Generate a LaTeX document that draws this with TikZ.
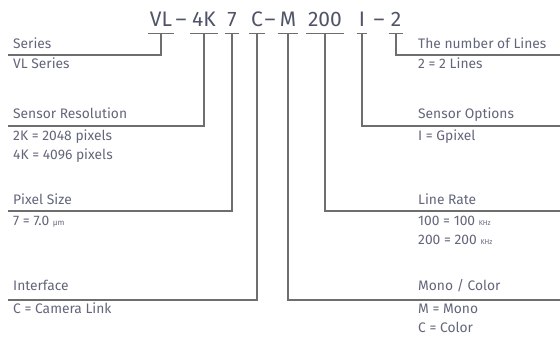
\documentclass[tikz,border=0pt]{standalone}
\usepackage{fontspec}
\setmainfont{Fira Sans}
\usetikzlibrary{calc}
\definecolor{codegray}{HTML}{4F5468}
\definecolor{txtgray}{HTML}{62667A}
\definecolor{wiregray}{HTML}{6E6E6E}
\tikzset{
  code/.style={anchor=base,inner xsep=2pt,inner ysep=0pt,text depth=0pt,text=codegray,font=\fontsize{21}{21}\selectfont},
  lbl/.style={anchor=base west,inner sep=0pt,text=txtgray,font=\fontsize{13.8}{14}\selectfont},
  wire/.style={draw=wiregray,line width=1.3pt}
}
\begin{document}
\begin{tikzpicture}[x=1pt,y=-1pt]
\useasboundingbox (0,0) rectangle (560,337);
\node[code] (vl) at (161,27) {VL};
\node[code] (d1) at (181,27) {–};
\node[code] (res) at (204,27) {4K};
\node[code] (px) at (232,27) {7};
\node[code] (ifc) at (257,27) {C};
\node[code] (d2) at (270,27) {–};
\node[code] (mc) at (288,27) {M};
\node[code] (rate) at (325,27) {200};
\node[code] (opt) at (362,27) {I};
\node[code] (d3) at (379,27) {–};
\node[code] (nl) at (396,27) {2};
\foreach \s in {vl,res,px,ifc,mc,rate,opt,nl}
  \draw[wire] ($(\s.south west)+(0,6)$) -- ($(\s.south east)+(0,6)$) coordinate[midway] (b-\s);
% left column
\node[lbl] (series) at (13,49) {Series};
\node[lbl] at (13,69) {VL Series};
\coordinate (e-series) at (8,55);
\node[lbl] (senres) at (13,118) {Sensor Resolution};
\node[lbl] at (13,140) {2K = 2048 pixels};
\node[lbl] at (13,159) {4K = 4096 pixels};
\coordinate (e-senres) at (8,126);
\node[lbl] (pxsize) at (13,204) {Pixel Size};
\node[lbl] at (13,225) {7 = 7.0 {\fontsize{8}{8}\selectfont μm}};
\coordinate (e-pxsize) at (8,211);
\node[lbl] (iface) at (13,290) {Interface};
\node[lbl] at (13,313) {C = Camera Link};
\coordinate (e-iface) at (8,300);
% right column
\node[lbl] (nlines) at (418,49) {The number of Lines};
\node[lbl] at (418,69) {2 = 2 Lines};
\coordinate (e-nlines) at (560,55);
\node[lbl] (senopt) at (418,118) {Sensor Options};
\node[lbl] at (418,140) {I = Gpixel};
\coordinate (e-senopt) at (560,126);
\node[lbl] (lrate) at (418,204) {Line Rate};
\node[lbl] at (418,225) {100 = 100 {\fontsize{7}{7}\selectfont KHz}};
\node[lbl] at (418,244) {200 = 200 {\fontsize{7}{7}\selectfont KHz}};
\coordinate (e-lrate) at (560,211);
\node[lbl] (monocol) at (418,290) {Mono / Color};
\node[lbl] at (418,313) {M = Mono};
\node[lbl] at (418,332) {C = Color};
\coordinate (e-monocol) at (560,300);
\draw[wire] (b-vl) |- (e-series);
\draw[wire] (b-res) |- (e-senres);
\draw[wire] (b-px) |- (e-pxsize);
\draw[wire] (b-ifc) |- (e-iface);
\draw[wire] (b-nl) |- (e-nlines);
\draw[wire] (b-opt) |- (e-senopt);
\draw[wire] (b-rate) |- (e-lrate);
\draw[wire] (b-mc) |- (e-monocol);
\end{tikzpicture}
\end{document}
